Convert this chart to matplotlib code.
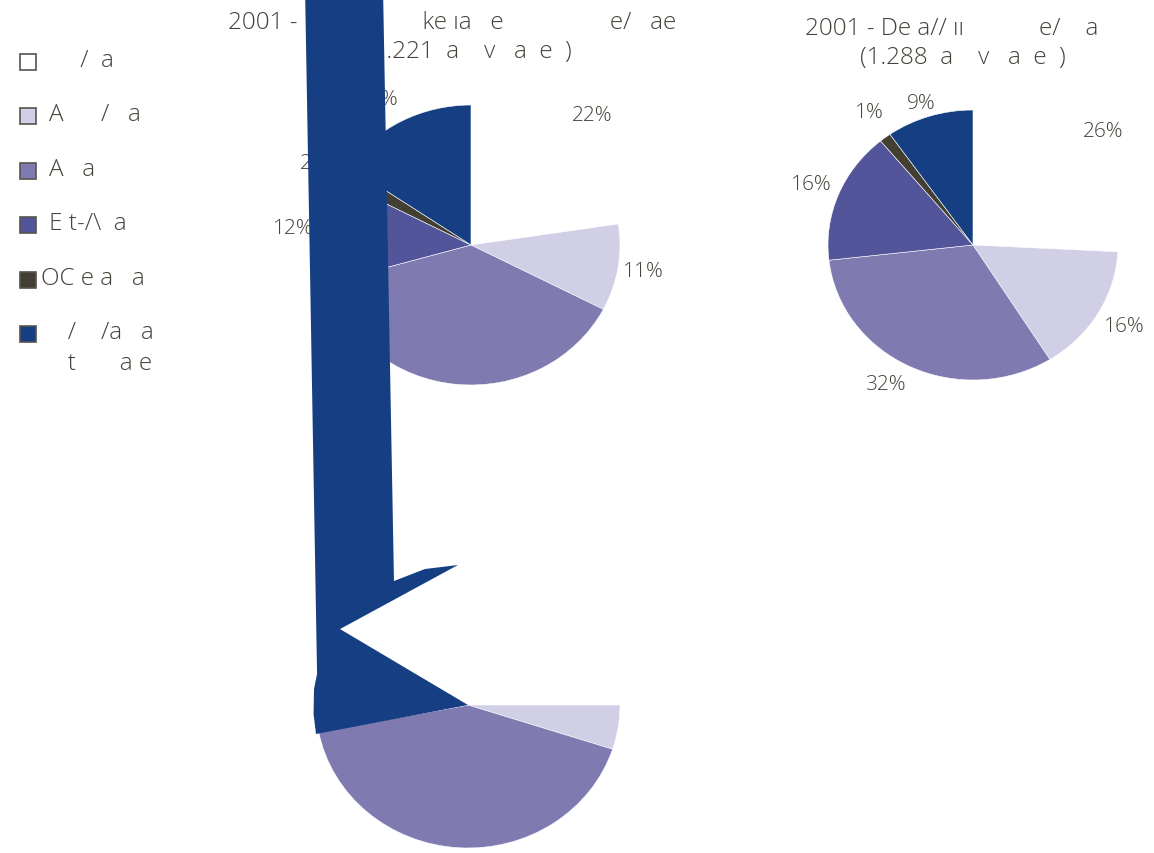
import matplotlib
matplotlib.use("Agg")
import matplotlib.pyplot as plt
from matplotlib.patches import Rectangle

W, H = 1154, 854

colors = ["#ffffff", "#d0cfe6", "#7f7bb1", "#53559b", "#443f33", "#163f83"]

legend_labels = ["     /  a", "A      /   a", "A   a", "E t-/\\  a", "OC e a   a", "   /    /a   a"]
legend_extra = "   t       a e"

# slice shares, clockwise from the top
left_values = [22.6, 10.0, 38.0, 12.0, 1.9, 15.5]
left_labels = ["22%", "11%", "", "12%", "2%", "16%"]
right_values = [25.8, 15.3, 32.1, 15.8, 1.3, 9.7]
right_labels = ["26%", "16%", "32%", "16%", "1%", "9%"]
bottom_values = [25.0, 5.0, 42.0, 0.0, 0.0, 28.0]

# outline of the stretched navy slice of the bottom pie, in pie radii
spike_x = [0.0, -1.0, -1.016, -1.013, -0.993, -1.072, -0.559, -0.487, -0.283, -0.066, -0.842]
spike_y = [0.0, -0.203, -0.063, 0.112, 0.217, 5.007, 5.007, 0.867, 0.951, 0.979, 0.531]

left_title_1 = "2001 -                    ke ıa   e                 e/   ae"
left_title_2 = "(1.221  a    v   a  e  )"
right_title_1 = "2001 - De a// ıı            e/    a"
right_title_2 = "(1.288  a    v   a  e  )"

plt.rcParams["font.family"] = ["Open Sans", "DejaVu Sans"]
plt.rcParams["font.weight"] = "light"
text_color = "#46423a"
title_size = 17.5


def pie_axes(fig, cx, cy, rx, ry, zorder):
    ax = fig.add_axes([(cx - rx) / W, (H - cy - ry) / H, 2 * rx / W, 2 * ry / H], zorder=zorder)
    ax.patch.set_alpha(0)
    return ax


def draw_pie(ax, values, labels=None, nudge=None):
    wedges, texts = ax.pie(values, colors=colors, labels=labels, startangle=90, counterclock=False,
                           radius=1, labeldistance=1.2,
                           wedgeprops={"edgecolor": "white", "linewidth": 0.4},
                           textprops={"fontsize": 15, "color": text_color})
    for i, t in enumerate(texts):
        t.set_ha("center")
        t.set_va("center")
        if nudge and i in nudge:
            x, y = t.get_position()
            t.set_position((x + nudge[i][0], y + nudge[i][1]))
    ax.set_aspect("auto")
    ax.set_xlim(-1, 1)
    ax.set_ylim(-1, 1)
    ax.axis("off")
    return wedges


fig = plt.figure(figsize=(W / 100, H / 100), dpi=100)

ax_left = pie_axes(fig, 471, 246, 149, 140, 1)
draw_pie(ax_left, left_values, left_labels,
         nudge={0: (0.03, 0.02), 1: (-0.03, 0.01), 5: (-0.06, -0.02), 4: (-0.02, -0.03)})

ax_right = pie_axes(fig, 973, 246, 145, 135, 1)
draw_pie(ax_right, right_values, right_labels,
         nudge={0: (0.03, 0.02), 1: (0.01, 0.01), 2: (-0.08, 0.05), 4: (0.01, 0.03), 5: (0, -0.09)})

# the stretched navy slice runs over the titles and the upper pie
ax_bottom = pie_axes(fig, 468, 706, 152, 143, 5)
wedges = draw_pie(ax_bottom, bottom_values)
wedges[5].set_visible(False)
ax_bottom.fill(spike_x, spike_y, color=colors[5], linewidth=0, clip_on=False)

fig.text(228 / W, 1 - 23 / H, left_title_1, ha="left", va="center", fontsize=title_size, color=text_color)
fig.text(366 / W, 1 - 52 / H, left_title_2, ha="left", va="center", fontsize=title_size, color=text_color)
fig.text(805 / W, 1 - 29 / H, right_title_1, ha="left", va="center", fontsize=title_size, color=text_color)
fig.text(860 / W, 1 - 58 / H, right_title_2, ha="left", va="center", fontsize=title_size, color=text_color)

# legend, one row per category
for i, (label, color) in enumerate(zip(legend_labels, colors)):
    y = 63 + i * 54.4
    x = 41 if i == 4 else 49
    fig.add_artist(Rectangle((20 / W, 1 - (y + 8) / H), 16 / W, 16 / H, transform=fig.transFigure,
                             facecolor=color, edgecolor="#57544e", linewidth=1.2))
    fig.text(x / W, 1 - (y - 2) / H, label, ha="left", va="center", fontsize=title_size, color=text_color)
fig.text(49 / W, 1 - 364 / H, legend_extra, ha="left", va="center", fontsize=title_size, color=text_color)

fig.savefig("out.png", dpi=100)
plt.close(fig)
